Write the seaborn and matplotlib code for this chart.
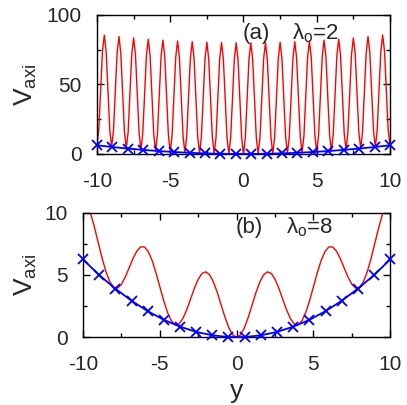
import numpy as np
import seaborn as sns
import matplotlib
matplotlib.use('Agg')
from matplotlib import pyplot as plt
from matplotlib.ticker import MultipleLocator
from matplotlib.transforms import blended_transform_factory as blend

# ---- data ----
# panel (a), lambda_o = 2 : red curve sampled every 0.125 in y
y_a = np.arange(-10, 10.001, 0.125)
red_a = [6.3, 17.8, 45.9, 74.1, 85.6, 73.8, 45.3, 16.9,
         5.1, 16.6, 44.8, 72.9, 84.5, 72.7, 44.3, 15.8,
         4.0, 15.6, 43.8, 71.9, 83.5, 71.7, 43.3, 14.9,
         3.1, 14.7, 42.8, 71.0, 82.6, 70.8, 42.4, 14.1,
         2.3, 13.9, 42.1, 70.3, 81.9, 70.1, 41.7, 13.4,
         1.6, 13.2, 41.4, 69.6, 81.3, 69.5, 41.1, 12.8,
         1.0, 12.7, 40.9, 69.1, 80.8, 69.0, 40.7, 12.3,
         0.6, 12.2, 40.5, 68.7, 80.4, 68.6, 40.3, 12.0,
         0.3, 11.9, 40.2, 68.4, 80.1, 68.4, 40.1, 11.8,
         0.1, 11.8, 40.0, 68.3, 80.0, 68.3, 40.0, 11.7,
         0.0, 11.7, 40.0, 68.3, 80.0, 68.3, 40.0, 11.8,
         0.1, 11.8, 40.1, 68.4, 80.1, 68.4, 40.2, 11.9,
         0.3, 12.0, 40.3, 68.6, 80.4, 68.7, 40.5, 12.2,
         0.6, 12.3, 40.7, 69.0, 80.8, 69.1, 40.9, 12.7,
         1.0, 12.8, 41.1, 69.5, 81.3, 69.6, 41.4, 13.2,
         1.6, 13.4, 41.7, 70.1, 81.9, 70.3, 42.1, 13.9,
         2.3, 14.1, 42.4, 70.8, 82.6, 71.0, 42.8, 14.7,
         3.1, 14.9, 43.3, 71.7, 83.5, 71.9, 43.8, 15.6,
         4.0, 15.8, 44.3, 72.7, 84.5, 72.9, 44.8, 16.6,
         5.1, 16.9, 45.3, 73.8, 85.6, 74.1, 45.9, 17.8,
         6.3]

# panel (b), lambda_o = 8 : red curve sampled every 0.25 in y
y_b = np.arange(-10, 10.001, 0.25)
red_b = [11.25, 10.75, 9.91, 8.81, 7.56, 6.33, 5.25, 4.44,
         4.00, 3.94, 4.25, 4.83, 5.56, 6.31, 6.91, 7.25,
         7.25, 6.88, 6.16, 5.18, 4.06, 2.95, 2.00, 1.32,
         1.00, 1.07, 1.50, 2.20, 3.06, 3.93, 4.66, 5.13,
         5.25, 5.00, 4.41, 3.56, 2.56, 1.58, 0.75, 0.19,
         0.00, 0.19, 0.75, 1.58, 2.56, 3.56, 4.41, 5.00,
         5.25, 5.13, 4.66, 3.93, 3.06, 2.20, 1.50, 1.07,
         1.00, 1.32, 2.00, 2.95, 4.06, 5.18, 6.16, 6.88,
         7.25, 7.25, 6.91, 6.31, 5.56, 4.83, 4.25, 3.94,
         4.00, 4.44, 5.25, 6.33, 7.56, 8.81, 9.91, 10.75,
         11.25]

# blue harmonic curve with x markers (same in both panels)
y_mark = [-10.0, -8.95, -7.89, -6.84, -5.79, -4.74, -3.68, -2.63, -1.58, -0.53,
          0.53, 1.58, 2.63, 3.68, 4.74, 5.79, 6.84, 7.89, 8.95, 10.0]
blue = [6.25, 5.0, 3.9, 2.93, 2.1, 1.4, 0.85, 0.43, 0.16, 0.02,
        0.02, 0.16, 0.43, 0.85, 1.4, 2.1, 2.93, 3.9, 5.0, 6.25]

panel_tags = ['(a)', '(b)']
lambdas = ['λ$_o$=2', 'λ$_o$=8']

sns.set_style('ticks')
plt.rcParams['font.family'] = ['Liberation Sans', 'DejaVu Sans']
plt.rcParams['mathtext.default'] = 'regular'
plt.rcParams['axes.unicode_minus'] = False

fig = plt.figure(figsize=(4.07, 4.05), dpi=100)
ax1 = fig.add_axes([0.2383, 0.6198, 0.7199, 0.3432])
ax2 = fig.add_axes([0.2039, 0.1672, 0.7550, 0.3077])


def style(ax, ymax, ymaj):
    ax.set_xlim(-10, 10)
    ax.set_ylim(0, ymax)
    ax.xaxis.set_major_locator(MultipleLocator(5))
    ax.xaxis.set_minor_locator(MultipleLocator(2.5))
    ax.yaxis.set_major_locator(MultipleLocator(ymaj))
    ax.yaxis.set_minor_locator(MultipleLocator(ymaj / 2))
    ax.tick_params(which='both', direction='in', top=True, right=True,
                   labelsize=15, width=1, color='black')
    ax.tick_params(axis='x', pad=13)
    ax.tick_params(axis='y', pad=11)
    ax.tick_params(which='major', length=5)
    ax.tick_params(which='minor', length=3)
    for s in ax.spines.values():
        s.set_linewidth(1)
        s.set_color('black')
    ax.set_xlabel('')
    ax.set_ylabel('$V_{axi}$', fontsize=19)
    ax.yaxis.set_label_coords(0.097, 0.5, transform=blend(fig.transFigure, ax.transAxes))


for ax, yy, rr, ymax, ymaj in [(ax1, y_a, red_a, 100, 50), (ax2, y_b, red_b, 10, 5)]:
    sns.lineplot(x=yy, y=rr, ax=ax, color='red', lw=1.0, errorbar=None)
    sns.lineplot(x=y_mark, y=blue, ax=ax, color='blue', lw=1.3, errorbar=None,
                 marker='x', markersize=6.5, markeredgewidth=1.3,
                 markeredgecolor='blue', clip_on=False, zorder=5)
    style(ax, ymax, ymaj)

ax1.text(0.498, 0.824, panel_tags[0], transform=ax1.transAxes, fontsize=16, va='baseline')
ax1.text(0.6655, 0.824, lambdas[0], transform=ax1.transAxes, fontsize=16, va='baseline')
ax2.text(0.4956, 0.835, panel_tags[1], transform=ax2.transAxes, fontsize=16, va='baseline')
ax2.text(0.6616, 0.835, lambdas[1], transform=ax2.transAxes, fontsize=16, va='baseline')

ax2.set_xlabel('y', fontsize=19)
ax2.xaxis.set_label_coords(0.5, 0.063, transform=blend(ax2.transAxes, fig.transFigure))
ax2.xaxis.label.set_va('top')

fig.savefig('out.png', dpi=100)
